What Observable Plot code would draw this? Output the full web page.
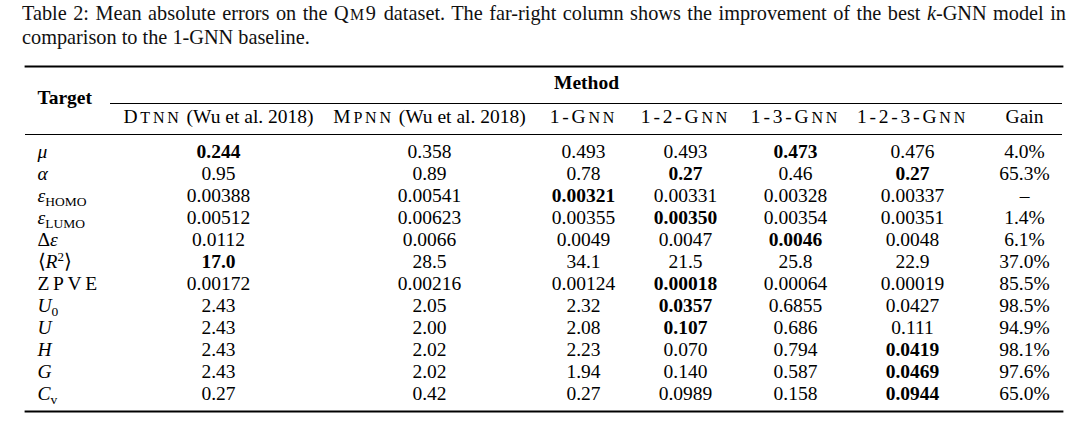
<!DOCTYPE html>
<html><head><meta charset="utf-8">
<script src="https://cdn.jsdelivr.net/npm/d3@7"></script>
<script src="https://cdn.jsdelivr.net/npm/@observablehq/plot@0.6"></script>
<style>
html,body{margin:0;padding:0;background:#fff;}
body{width:1080px;height:430px;overflow:hidden;}
#cap{font-family:"Liberation Serif",serif;font-size:20.3px;line-height:23px;color:#111;box-sizing:border-box;height:50px;padding:2px 0 0 22px;width:1066px;}
#cap .l1{text-align:justify;text-align-last:justify;white-space:nowrap;}
#cap .qm{letter-spacing:1.5px;}
#cap .sc{font-size:0.78em;}
</style></head><body>
<div id="cap"><div class="l1">Table 2: Mean absolute errors on the <span class="qm">Q<span class="sc">M</span>9</span> dataset. The far-right column shows the improvement of the best <i>k</i>-GNN model in</div><div>comparison to the 1-GNN baseline.</div></div>
<div id="chart"></div>
<script>
// ---- data ----
const columns = ["Target","DTNN","MPNN","1-GNN","1-2-GNN","1-3-GNN","1-2-3-GNN","Gain"];
const headers = ["Target","DTNN (Wu et al. 2018)","MPNN (Wu et al. 2018)","1-GNN","1-2-GNN","1-3-GNN","1-2-3-GNN","Gain"];
const targets = ["μ","α","εHOMO","εLUMO","Δε","⟨R2⟩","ZPVE","U0","U","H","G","Cv"];
const dtnn   = ["0.244","0.95","0.00388","0.00512","0.0112","17.0","0.00172","2.43","2.43","2.43","2.43","0.27"];
const mpnn   = ["0.358","0.89","0.00541","0.00623","0.0066","28.5","0.00216","2.05","2.00","2.02","2.02","0.42"];
const gnn1   = ["0.493","0.78","0.00321","0.00355","0.0049","34.1","0.00124","2.32","2.08","2.23","1.94","0.27"];
const gnn12  = ["0.493","0.27","0.00331","0.00350","0.0047","21.5","0.00018","0.0357","0.107","0.070","0.140","0.0989"];
const gnn13  = ["0.473","0.46","0.00328","0.00354","0.0046","25.8","0.00064","0.6855","0.686","0.794","0.587","0.158"];
const gnn123 = ["0.476","0.27","0.00337","0.00351","0.0048","22.9","0.00019","0.0427","0.111","0.0419","0.0469","0.0944"];
const gain   = ["4.0%","65.3%","–","1.4%","6.1%","37.0%","85.5%","98.5%","94.9%","98.1%","97.6%","65.0%"];
const best   = [["DTNN","1-3-GNN"],["1-2-GNN","1-2-3-GNN"],["1-GNN"],["1-2-GNN"],["1-3-GNN"],["DTNN"],["1-2-GNN"],["1-2-GNN"],["1-2-GNN"],["1-2-3-GNN"],["1-2-3-GNN"],["1-2-3-GNN"]];

// ---- table build ----
const series = {"DTNN":dtnn,"MPNN":mpnn,"1-GNN":gnn1,"1-2-GNN":gnn12,"1-3-GNN":gnn13,"1-2-3-GNN":gnn123,"Gain":gain};
const cells = [];
targets.forEach((t,i)=>columns.slice(1).forEach(c=>cells.push({target:t,col:c,value:series[c][i],bold:best[i].includes(c)})));

// layout: column centres of the table
const colCenter = d3.scaleOrdinal(columns,[37,218,429,583,685,795,912,1024]);
const ruleStart = 110, ruleEnd = 1062;
const FS = "19.5px";

const plot = Plot.plot({
  width:1080, height:380,
  marginTop:16, marginBottom:19, marginLeft:25, marginRight:18,
  x:{type:"identity", axis:null},
  y:{type:"point", domain:targets, range:[98,346], padding:0, axis:null},
  style:{fontFamily:'"Liberation Serif", serif', fontSize:FS, color:"#000", background:"#fff"},
  marks:[
    Plot.frame({anchor:"top", strokeWidth:1.8}),
    Plot.frame({anchor:"bottom", strokeWidth:1.8}),
    Plot.ruleY([targets[0]], {dy:-48, insetLeft:ruleStart-25, strokeWidth:1}),
    Plot.ruleY([targets[0]], {dy:-17, strokeWidth:1.1}),
    Plot.text(["Method"], {x:()=>(ruleStart+ruleEnd)/2, text:d=>d, frameAnchor:"top", dy:16, lineAnchor:"middle", fontWeight:"bold", fontSize:FS}),
    Plot.text(["Target"], {x:()=>colCenter("Target"), text:d=>d, frameAnchor:"top", dy:31, lineAnchor:"middle", textAnchor:"start", fontWeight:"bold", fontSize:FS}),
    Plot.text(columns.slice(1), {x:c=>colCenter(c), text:c=>headers[columns.indexOf(c)], frameAnchor:"top", dy:50, lineAnchor:"middle", fontSize:FS}),
    Plot.text(targets, {x:()=>colCenter("Target"), y:d=>d, text:d=>d, textAnchor:"start", lineAnchor:"middle", fontSize:FS}),
    Plot.text(cells.filter(d=>!d.bold), {x:d=>colCenter(d.col), y:"target", text:"value", lineAnchor:"middle", fontSize:FS}),
    Plot.text(cells.filter(d=>d.bold), {x:d=>colCenter(d.col), y:"target", text:"value", lineAnchor:"middle", fontSize:FS, fontWeight:"bold"})
  ]
});
document.getElementById("chart").appendChild(plot);

// ---- typographic post-processing (math labels, small caps) ----
const mathFmt = {
  "μ":[["μ","i"]], "α":[["α","i"]],
  "εHOMO":[["ε","i"],["HOMO","sub"]], "εLUMO":[["ε","i"],["LUMO","sub"]],
  "Δε":[["Δ","n"],["ε","i"]], "⟨R2⟩":[["⟨","n"],["R","i"],["2","sup"],["⟩","n"]],
  "ZPVE":[["ZPVE","sp"]], "U0":[["U","i"],["0","sub"]], "U":[["U","i"]],
  "H":[["H","i"]], "G":[["G","i"]], "Cv":[["C","i"],["v","sub"]]
};
const shift = {sub:4, sup:-7};
function renderMath(el, parts){
  const s = d3.select(el); s.text(null);
  let cur = 0;
  parts.forEach(([t,k])=>{
    const target = shift[k] || 0;
    const ts = s.append("tspan").text(t).attr("dy", target-cur);
    cur = target;
    if (k==="i") ts.attr("font-style","italic");
    if (k==="sub") ts.attr("font-size","13.5px");
    if (k==="sup") ts.attr("font-size","13px");
    if (k==="sp") ts.attr("letter-spacing","3.6px");
  });
}
function renderSmallCaps(el, str){
  const s = d3.select(el); s.text(null);
  const sp = str.indexOf(" ");
  const token = sp<0 ? str : str.slice(0,sp);
  const rest = sp<0 ? "" : str.slice(sp);
  let seen = false, groups = [];
  for (const ch of token){
    const isUp = /[A-Z]/.test(ch);
    const small = isUp && seen;
    if (isUp) seen = true;
    if (groups.length && groups[groups.length-1].small===small) groups[groups.length-1].t += ch;
    else groups.push({t:ch, small});
  }
  groups.forEach(g=>{
    const ts = s.append("tspan").text(g.t).attr("letter-spacing","2.8px");
    if (g.small) ts.attr("font-size","16px");
  });
  if (rest) s.append("tspan").text(rest).attr("letter-spacing","0px");
}
const modelHeaders = headers.slice(1,7);
d3.select(plot).selectAll("text").each(function(){
  const t = this.textContent;
  if (mathFmt[t]) renderMath(this, mathFmt[t]);
  else if (modelHeaders.includes(t)) renderSmallCaps(this, t);
});
d3.select(plot).selectAll("text").filter(function(){return this.getAttribute("font-weight")==="bold" && /^[0-9.]+$/.test(this.textContent);}).attr("letter-spacing","1.1px");
</script>
</body></html>
